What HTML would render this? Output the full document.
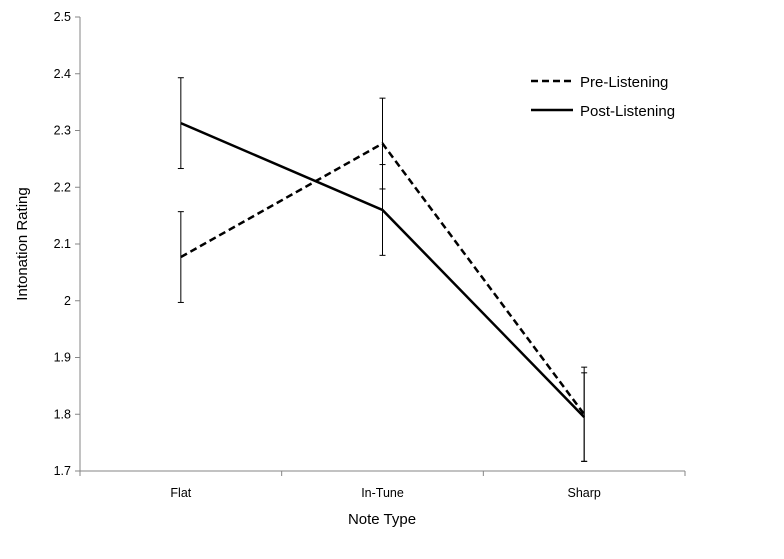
<!DOCTYPE html>
<html><head><meta charset="utf-8"><style>
body{margin:0;background:#fff;}
svg text{font-family:"Liberation Sans",sans-serif;fill:#000;}
</style></head><body>
<svg id="chart" width="784" height="554" viewBox="0 0 784 554">
<g id="axes"></g><g id="series"></g>
<g>
<line x1="531" y1="81" x2="573" y2="81" stroke="#000" stroke-width="2.5" stroke-dasharray="7,4"/>
<text x="580" y="87" font-size="15">Pre-Listening</text>
<line x1="531" y1="110" x2="573" y2="110" stroke="#000" stroke-width="2.5"/>
<text x="580" y="116" font-size="15">Post-Listening</text>
</g>
<text x="382" y="524" font-size="15" text-anchor="middle">Note Type</text>
<text transform="translate(27,244) rotate(-90)" font-size="15" text-anchor="middle">Intonation Rating</text>
</svg>
<script>
const categories=["Flat","In-Tune","Sharp"];
const preValues=[2.077,2.277,1.80];
const preErrors=[0.08,0.08,0.083];
const postValues=[2.313,2.16,1.795];
const postErrors=[0.08,0.08,0.078];
const yTicks=[1.7,1.8,1.9,2,2.1,2.2,2.3,2.4,2.5];
const yTickLabels=["1.7","1.8","1.9","2","2.1","2.2","2.3","2.4","2.5"];
const NS="http://www.w3.org/2000/svg";
const x0=80,x1=685,yTop=17,yBot=471,yMin=1.7,yMax=2.5;
const bw=(x1-x0)/categories.length;
function xPos(i){return x0+bw*(i+0.5);}
function yPos(v){return yBot-(v-yMin)/(yMax-yMin)*(yBot-yTop);}
function mk(tag,attrs,parent){const e=document.createElementNS(NS,tag);for(const k in attrs)e.setAttribute(k,attrs[k]);parent.appendChild(e);return e;}
const axes=document.getElementById('axes'),series=document.getElementById('series');
let e=mk('line',{x1:x0,y1:yTop,x2:x0,y2:yBot,stroke:'#868686'},axes);


e=mk('line',{x1:x0,y1:yBot,x2:x1,y2:yBot,stroke:'#868686'},axes);


yTicks.forEach((t,i)=>{
 const y=yPos(t);
 mk('line',{x1:x0-5,y1:y,x2:x0,y2:y,stroke:'#868686'},axes);
 const tx=mk('text',{x:x0-9,y:y+4,'font-size':12.5,'text-anchor':'end'},axes);
 tx.textContent=yTickLabels[i];
 
 
});
for(let i=0;i<=categories.length;i++){const x=x0+bw*i;mk('line',{x1:x,y1:yBot,x2:x,y2:yBot+5,stroke:'#868686'},axes);}
categories.forEach((c,i)=>{
 const tx=mk('text',{x:xPos(i),y:yBot+26,'font-size':12.5,'text-anchor':'middle'},axes);
 tx.textContent=c;
 
 
});
function drawSeries(vals,errs,dash,name){
 const pts=vals.map((v,i)=>xPos(i)+','+yPos(v)).join(' ');
 const pl=mk('polyline',{points:pts,fill:'none',stroke:'#000','stroke-width':2.5},series);
 if(dash)pl.setAttribute('stroke-dasharray','7,4');
 
 
 vals.forEach((v,i)=>{
  const x=xPos(i),yt=yPos(v+errs[i]),yb=yPos(v-errs[i]);
  const g=mk('g',{stroke:'#000','stroke-width':1},series);
  
  
  mk('line',{x1:x,y1:yt,x2:x,y2:yb},g);
  mk('line',{x1:x-3,y1:yt,x2:x+3,y2:yt},g);
  mk('line',{x1:x-3,y1:yb,x2:x+3,y2:yb},g);
 });
}
drawSeries(preValues,preErrors,true,'pre-listening');
drawSeries(postValues,postErrors,false,'post-listening');
</script>
</body></html>
